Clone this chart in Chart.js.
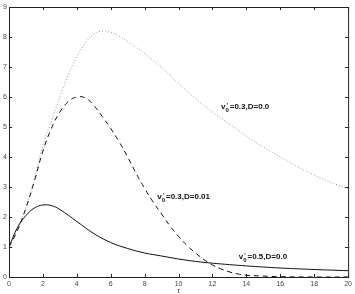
<!DOCTYPE html>
<html>
<head>
<meta charset="UTF-8">
<title>v0 curves</title>
<script src="https://cdn.jsdelivr.net/npm/chart.js"></script>
<style>
  html, body { margin: 0; padding: 0; background: #fff; }
  #wrap { width: 355px; height: 294px; }
</style>
</head>
<body>
<div id="wrap"><canvas id="grafico" width="355" height="294"></canvas></div>
<script>
// eixo tau
const tauA = [0, 0.5, 1, 1.5, 2, 2.5, 3, 4, 5, 6, 7, 8, 9, 10, 11, 12, 14, 16, 18, 20];
const curvaA = [1.0, 1.65, 2.05, 2.3, 2.4, 2.38, 2.25, 1.85, 1.45, 1.15, 0.95, 0.8, 0.7, 0.6, 0.52, 0.46, 0.37, 0.3, 0.25, 0.21];

const tauB = [0, 0.5, 1, 1.5, 2, 2.5, 3, 3.5, 4, 4.5, 5, 5.5, 6, 6.5, 7, 7.5, 8, 8.5, 9, 9.5, 10, 10.5, 11, 11.5, 12, 12.5, 13, 13.5, 14, 15, 16, 18, 20];
const curvaB = [1.0, 1.55, 2.3, 3.2, 4.2, 4.95, 5.5, 5.85, 6.0, 5.97, 5.72, 5.35, 4.95, 4.5, 4.0, 3.45, 2.95, 2.5, 2.1, 1.7, 1.35, 1.05, 0.8, 0.58, 0.4, 0.27, 0.17, 0.1, 0.06, 0.03, 0.01, 0.0, 0.0];

const tauC = [0, 0.5, 1, 1.5, 2, 2.5, 3, 3.5, 4, 4.5, 5, 5.5, 6, 6.5, 7, 7.5, 8, 8.5, 9, 9.5, 10, 11, 12, 13, 14, 15, 16, 17, 18, 19, 20];
const curvaC = [1.0, 1.6, 2.35, 3.3, 4.4, 5.2, 6.0, 6.75, 7.35, 7.8, 8.1, 8.2, 8.15, 8.02, 7.85, 7.65, 7.45, 7.22, 6.98, 6.72, 6.45, 5.95, 5.5, 5.1, 4.7, 4.33, 4.0, 3.68, 3.4, 3.15, 2.95];

const ticksX = [0, 2, 4, 6, 8, 10, 12, 14, 16, 18, 20];
const ticksY = [0, 1, 2, 3, 4, 5, 6, 7, 8, 9];

// rotulos das curvas: texto, tau, valor
const rotulos = [
    { txt: '=0.3,D=0.0', x: 12.5, y: 5.67 },
    { txt: '=0.3,D=0.01', x: 8.74, y: 2.67 },
    { txt: '=0.5,D=0.0', x: 13.55, y: 0.67 }
];

function pares(xs, ys) {
    return xs.map((x, i) => ({ x: x, y: ys[i] }));
}

const molduraPlugin = {
    id: 'moldura',
    afterDraw(chart) {
        const ctx = chart.ctx;
        const a = chart.chartArea;
        const sx = chart.scales.x, sy = chart.scales.y;
        ctx.save();
        ctx.strokeStyle = '#222';
        ctx.lineWidth = 1;
        ctx.strokeRect(a.left + 0.5, a.top + 0.5, a.right - a.left, a.bottom - a.top);
        ctx.beginPath();
        ticksX.forEach(v => {
            const p = Math.round(sx.getPixelForValue(v)) + 0.5;
            ctx.moveTo(p, a.bottom); ctx.lineTo(p, a.bottom - 3);
            ctx.moveTo(p, a.top); ctx.lineTo(p, a.top + 3);
        });
        ticksY.forEach(v => {
            const p = Math.round(sy.getPixelForValue(v)) + 0.5;
            ctx.moveTo(a.left, p); ctx.lineTo(a.left + 3, p);
            ctx.moveTo(a.right, p); ctx.lineTo(a.right - 3, p);
        });
        ctx.stroke();

        // rotulos
        ctx.fillStyle = '#111';
        ctx.textBaseline = 'middle';
        rotulos.forEach(r => {
            const px = sx.getPixelForValue(r.x);
            const py = sy.getPixelForValue(r.y);
            ctx.font = 'bold 8px "Liberation Sans", Arial, sans-serif';
            ctx.fillText('v', px, py);
            const wv = ctx.measureText('v').width;
            ctx.font = 'bold 6px "Liberation Sans", Arial, sans-serif';
            ctx.fillText('0', px + wv, py + 3);
            ctx.fillText('\u2032', px + wv + 1, py - 2);
            const w0 = ctx.measureText('0').width;
            ctx.font = 'bold 8px "Liberation Sans", Arial, sans-serif';
            ctx.fillText(r.txt, px + wv + w0 + 1, py);
        });

        // titulo do eixo x
        ctx.font = '7px "Liberation Sans", Arial, sans-serif';
        ctx.fillStyle = '#333';
        ctx.textAlign = 'center';
        ctx.fillText('\u03c4', sx.getPixelForValue(10), 291);
        ctx.restore();
    }
};

new Chart(document.getElementById('grafico').getContext('2d'), {
    type: 'line',
    data: {
        datasets: [
            {
                label: 'v0=0.5,D=0.0',
                data: pares(tauA, curvaA),
                borderColor: '#111',
                borderWidth: 1,
                pointRadius: 0,
                tension: 0.4
            },
            {
                label: 'v0=0.3,D=0.01',
                data: pares(tauB, curvaB),
                borderColor: '#111',
                borderWidth: 1,
                borderDash: [5, 4],
                pointRadius: 0,
                tension: 0.4
            },
            {
                label: 'v0=0.3,D=0.0',
                data: pares(tauC, curvaC),
                borderColor: '#999',
                borderWidth: 1,
                borderDash: [1, 2],
                pointRadius: 0,
                tension: 0.4
            }
        ]
    },
    options: {
        responsive: false,
        animation: false,
        events: [],
        layout: { padding: { top: 7, right: 4, left: 0, bottom: 0 } },
        plugins: { legend: { display: false }, tooltip: { enabled: false } },
        scales: {
            x: {
                type: 'linear',
                min: 0, max: 20,
                afterBuildTicks: s => { s.ticks = ticksX.map(v => ({ value: v })); },
                afterFit: s => { s.height = 17; },
                grid: { display: false, drawTicks: false, tickLength: 0 },
                border: { display: false },
                ticks: {
                    padding: 3,
                    maxRotation: 0,
                    color: '#444',
                    font: { size: 7, family: '"Liberation Sans", Arial, sans-serif' }
                }
            },
            y: {
                min: 0, max: 9,
                afterBuildTicks: s => { s.ticks = ticksY.map(v => ({ value: v })); },
                afterFit: s => { s.width = 9; },
                grid: { display: false, drawTicks: false, tickLength: 0 },
                border: { display: false },
                ticks: {
                    padding: 2,
                    color: '#444',
                    font: { size: 7, family: '"Liberation Sans", Arial, sans-serif' }
                }
            }
        }
    },
    plugins: [molduraPlugin]
});
</script>
</body>
</html>
